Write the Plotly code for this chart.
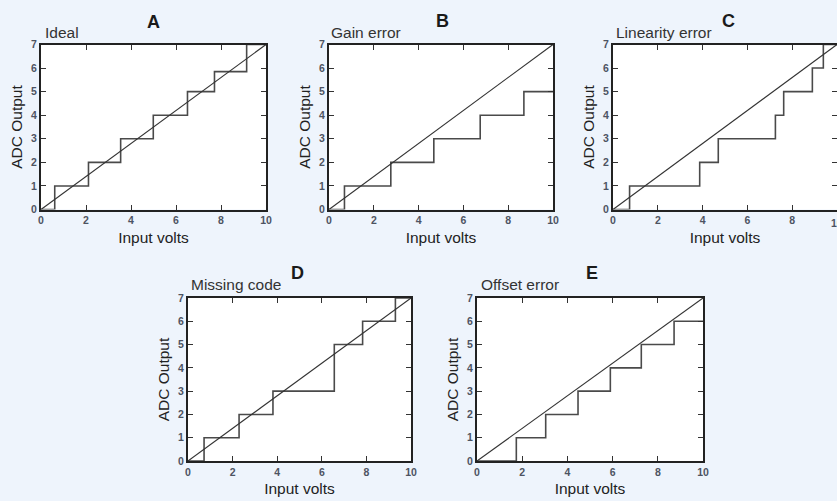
import plotly.graph_objects as go

W, H = 837, 501

# ---- data ----
ideal_x = [0, 0.61, 2.11, 3.54, 4.99, 6.51, 7.71, 9.14, 10]
ideal_y = [0, 1, 2, 3, 4, 5, 5.85, 7, 7]

gain_x = [0, 0.69, 2.76, 4.68, 6.75, 8.70, 10]
gain_y = [0, 1, 2, 3, 4, 5, 5]

lin_x = [0, 0.74, 3.87, 4.70, 7.25, 7.62, 8.90, 9.39, 10]
lin_y = [0, 1, 2, 3, 4, 5, 6, 7, 7]

miss_x = [0, 0.72, 2.29, 3.81, 6.56, 7.83, 9.30, 10]
miss_y = [0, 1, 2, 3, 5, 6, 7, 7]

off_x = [0, 1.74, 3.04, 4.47, 5.90, 7.27, 8.72, 10]
off_y = [0, 1, 2, 3, 4, 5, 6, 6]

ideal_line_x = [0, 10]
ideal_line_y = [0, 7]

panel_letters = ["A", "B", "C", "D", "E"]
panel_names = ["Ideal", "Gain error", "Linearity error", "Missing code", "Offset error"]
x_ticks = [0, 2, 4, 6, 8, 10]
y_ticks = [0, 1, 2, 3, 4, 5, 6, 7]

steps = [(ideal_x, ideal_y), (gain_x, gain_y), (lin_x, lin_y), (miss_x, miss_y), (off_x, off_y)]

# ---- layout (pixel boxes: x0, x1, y0(top), y1(bottom)) ----
boxes = [
    (41, 266, 44.5, 209.5),
    (329, 553, 44.5, 209.5),
    (613, 837, 44.5, 209.5),
    (188, 411, 298, 461),
    (477, 703, 298, 461),
]
# letter (cx, cy), name (left x, cy)
letter_pos = [(153, 22), (442, 21), (728, 21), (297, 273), (592, 273)]
name_pos = [(43, 33), (329, 33), (614, 33), (189, 284), (479, 284)]

fig = go.Figure()
FAM = "Liberation Sans, Arial, sans-serif"
layout = dict(
    width=W, height=H,
    margin=dict(l=0, r=0, t=0, b=0, autoexpand=False),
    paper_bgcolor="#eef4fc",
    plot_bgcolor="white",
    showlegend=False,
    font=dict(family=FAM),
)
annotations = []
tickfont = dict(size=10.5, color="#4d5362", family=FAM, weight="bold")
titlefont = dict(size=15.5, color="#222222", family=FAM)

for i, ((sx, sy), (x0, x1, y0, y1)) in enumerate(zip(steps, boxes)):
    n = i + 1
    xa = "x" if n == 1 else f"x{n}"
    ya = "y" if n == 1 else f"y{n}"
    fig.add_trace(go.Scatter(x=sx, y=sy, mode="lines", line=dict(shape="hv", color="#4a4a4a", width=1.6),
                             xaxis=xa, yaxis=ya, hoverinfo="skip", cliponaxis=False))
    fig.add_trace(go.Scatter(x=ideal_line_x, y=ideal_line_y, mode="lines", line=dict(color="#333333", width=1.1),
                             xaxis=xa, yaxis=ya, hoverinfo="skip"))
    common = dict(showline=True, linewidth=2, linecolor="#222222", mirror="allticks",
                  ticks="inside", ticklen=5, tickwidth=1, tickcolor="#333333", automargin=False,
                  showgrid=False, zeroline=False, tickfont=tickfont, fixedrange=True)
    layout["xaxis" if n == 1 else f"xaxis{n}"] = dict(
        domain=[x0 / W, x1 / W], anchor=ya, range=[0, 10], tickvals=x_ticks,
        title=dict(text="Input volts", font=titlefont, standoff=7), **common)
    layout["yaxis" if n == 1 else f"yaxis{n}"] = dict(
        domain=[1 - y1 / H, 1 - y0 / H], anchor=xa, range=[0, 7], tickvals=y_ticks,
        title=dict(text="ADC Output", font=titlefont, standoff=5), **common)
    lx, ly = letter_pos[i]
    annotations.append(dict(text=f"<b>{panel_letters[i]}</b>", x=lx / W, y=1 - ly / H, xref="paper", yref="paper",
                            xanchor="center", yanchor="middle", showarrow=False,
                            font=dict(size=18, color="#1a1a1a", family=FAM)))
    nx, ny = name_pos[i]
    annotations.append(dict(text=panel_names[i], x=nx / W, y=1 - ny / H, xref="paper", yref="paper",
                            xanchor="left", yanchor="middle", showarrow=False,
                            font=dict(size=15.5, color="#333333", family=FAM)))

# the last x tick label of panel C sits on the page edge (partly cut, as in the reference)
annotations.append(dict(text=str(x_ticks[-1]), x=x_ticks[-1], xref="x3", y=1 - 222.5 / H, yref="paper",
                        xanchor="center", yanchor="middle", showarrow=False, font=tickfont))

layout["annotations"] = annotations
fig.update_layout(**layout)
fig.write_html("out.html", config={"displayModeBar": False},
               post_script="document.body.style.margin='0';document.body.style.background='#eef4fc';")
